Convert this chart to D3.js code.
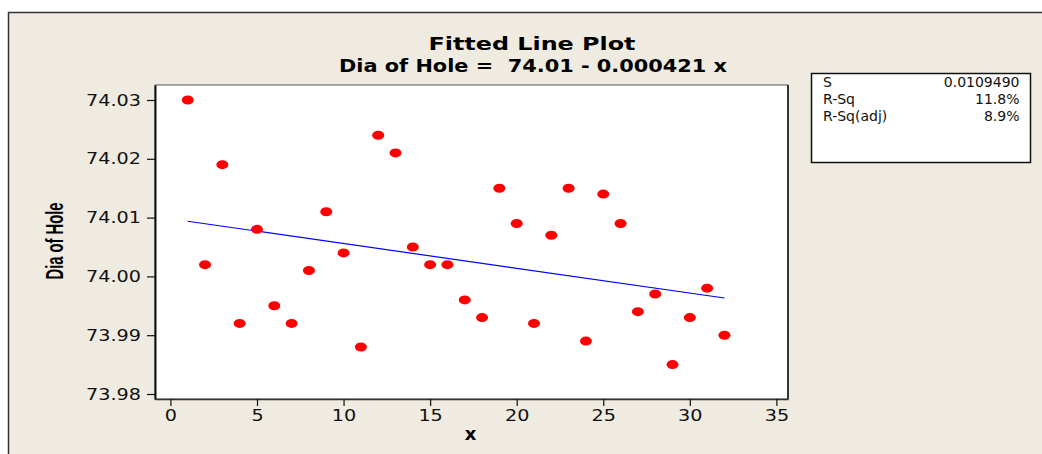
<!DOCTYPE html>
<html><head><meta charset="utf-8">
<script src="https://cdn.jsdelivr.net/npm/d3@7"></script>
<style>body{margin:0;background:#fff}svg{display:block}</style>
</head><body>
<script>
const xValues = [1,2,3,4,5,6,7,8,9,10,11,12,13,14,15,16,17,18,19,20,21,22,23,24,25,26,27,28,29,30,31,32];
const yValues = [74.030,74.002,74.019,73.992,74.008,73.995,73.992,74.001,74.011,74.004,73.988,74.024,74.021,74.005,74.002,74.002,73.996,73.993,74.015,74.009,73.992,74.007,74.015,73.989,74.014,74.009,73.994,73.997,73.985,73.993,73.998,73.990];
const xTicks = [0,5,10,15,20,25,30,35];
const yTicks = [73.98,73.99,74.00,74.01,74.02,74.03];
const fitIntercept = 74.0098;
const fitSlope = -0.000421;
const titleText = "Fitted Line Plot";
const subtitleText = "Dia of Hole =  74.01 - 0.000421 x";
const xLabel = "x";
const yLabel = "Dia of Hole";
const statLabels = ["S","R-Sq","R-Sq(adj)"];
const statValues = ["0.0109490","11.8%","8.9%"];

const W = 1042, H = 454;
const svg = d3.select("body").append("svg").attr("width", W).attr("height", H);

// outer panel
svg.append("rect").attr("x",8.5).attr("y",12.5).attr("width",1100).attr("height",500)
  .attr("fill","#EFEBE1").attr("stroke","#333").attr("stroke-width",1.5);

const pl = 155, pt = 85, pr = 788, pb = 399;
const x = d3.scaleLinear().domain([-0.89, 35.67]).range([pl, pr]);
const y = d3.scaleLinear().domain([73.97915, 74.03255]).range([pb, pt]);

svg.append("rect").attr("x",pl).attr("y",pt).attr("width",pr-pl).attr("height",pb-pt)
  .attr("fill","#fff").attr("stroke","#555").attr("stroke-width",1);
svg.append("line").attr("x1",pr).attr("x2",pr).attr("y1",pt).attr("y2",pb).attr("stroke","#111").attr("stroke-width",1.5);

const fontTick = "'DejaVu Sans', Verdana, sans-serif";

const yAxis = svg.append("g").attr("transform",`translate(${pl},0)`)
  .call(d3.axisLeft(y).tickValues(yTicks).tickSize(8).tickSizeOuter(0).tickFormat(d3.format(".2f")));
yAxis.select(".domain").attr("stroke","#111").attr("stroke-width",2);
yAxis.selectAll(".tick line").attr("stroke","#111").attr("stroke-width",1.2);
yAxis.selectAll(".tick text").attr("x",0).attr("transform","translate(-14,0) scale(1.2,1)")
  .style("font-family",fontTick).style("font-size","16px").attr("fill","#111");

const xAxis = svg.append("g").attr("transform",`translate(0,${pb})`)
  .call(d3.axisBottom(x).tickValues(xTicks).tickSize(7).tickSizeOuter(0).tickPadding(4));
xAxis.select(".domain").attr("stroke","#333").attr("stroke-width",1.5);
xAxis.selectAll(".tick line").attr("stroke","#111").attr("stroke-width",1.2);
xAxis.selectAll(".tick text").attr("transform","scale(1.2,1)")
  .style("font-family",fontTick).style("font-size","16px").attr("fill","#111");

// fitted line
const ends = [xValues[0], xValues[xValues.length-1]];
svg.append("path").datum(ends)
  .attr("d", d3.line().x(d=>x(d)).y(d=>y(fitIntercept + fitSlope*d)))
  .attr("fill","none").attr("stroke","#0000FF").attr("stroke-width",1.2);

// points
svg.append("g").selectAll("ellipse").data(xValues).join("ellipse")
  .attr("cx",(d)=>x(d)).attr("cy",(d,i)=>y(yValues[i]))
  .attr("rx",6).attr("ry",4.5).attr("fill","#FF0000");

// titles
svg.append("text").attr("x",532).attr("y",50).attr("text-anchor","middle")
  .attr("textLength",207).attr("lengthAdjust","spacingAndGlyphs")
  .style("font-family",fontTick).style("font-weight","bold").style("font-size","18px").text(titleText);
svg.append("text").attr("x",533).attr("y",71.5).attr("text-anchor","middle")
  .attr("textLength",388).attr("lengthAdjust","spacingAndGlyphs")
  .style("white-space","pre")
  .style("font-family",fontTick).style("font-weight","bold").style("font-size","17px").text(subtitleText);

// axis labels
svg.append("text").attr("x",470.5).attr("y",440).attr("text-anchor","middle")
  .style("font-family",fontTick).style("font-weight","bold").style("font-size","18px").text(xLabel);
svg.append("text").attr("transform","translate(63,241) rotate(-90)").attr("text-anchor","middle")
  .attr("textLength",77).attr("lengthAdjust","spacingAndGlyphs")
  .style("font-family","'Liberation Sans', Arial, sans-serif").style("font-weight","bold").style("font-size","23px").text(yLabel);

// stats box
svg.append("rect").attr("x",811.5).attr("y",73.5).attr("width",219).attr("height",89)
  .attr("fill","#fff").attr("stroke","#111").attr("stroke-width",1.5);
const stats = svg.append("g").style("font-family",fontTick).style("font-size","14px").attr("fill","#111");
stats.selectAll("text.l").data(statLabels).join("text").attr("class","l")
  .attr("x",823).attr("y",(d,i)=>86.5+i*17).text(d=>d);
stats.selectAll("text.v").data(statValues).join("text").attr("class","v")
  .attr("x",1019.5).attr("y",(d,i)=>86.5+i*17).attr("text-anchor","end").text(d=>d);
</script>
</body></html>
